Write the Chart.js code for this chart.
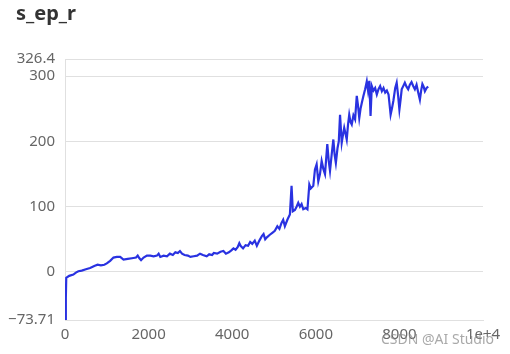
<!DOCTYPE html>
<html>
<head>
<meta charset="utf-8">
<script src="https://cdn.jsdelivr.net/npm/chart.js@4"></script>
<style>
  html, body { margin: 0; padding: 0; background: #fff; }
  #wrap { position: relative; width: 510px; height: 354px; }
  #title { position: absolute; left: 16px; top: 0px; font: bold 20px "Noto Sans", sans-serif; color: #333; line-height: 26px; }
  #mark { position: absolute; left: 381px; top: 329px; font: 14px "Noto Sans", sans-serif; color: rgba(140,140,140,0.75); white-space: nowrap; }
  canvas { position: absolute; left: 0; top: 0; }
</style>
</head>
<body>
<div id="wrap">
  <canvas id="chart" width="510" height="354"></canvas>
  <div id="title">s_ep_r</div>
  <div id="mark">CSDN @AI Studio</div>
</div>
<script>
// s_ep_r — episode reward vs step
const steps = [
  0, 20, 30, 100, 200, 260, 320, 400, 500, 600, 700, 780, 860, 940, 1000, 1080, 1160, 1240, 1320, 1400,
  1500, 1600, 1700, 1740, 1780, 1820, 1880, 1960, 2040, 2120, 2200, 2240, 2280, 2360, 2440, 2510, 2580, 2640, 2700, 2750,
  2800, 2860, 2940, 3000, 3080, 3160, 3230, 3300, 3390, 3450, 3520, 3560, 3640, 3720, 3790, 3850, 3920, 3980, 4030, 4080,
  4130, 4170, 4200, 4260, 4320, 4380, 4430, 4480, 4540, 4590, 4650, 4710, 4750, 4790, 4830, 4900, 4960, 5020, 5080, 5130,
  5180, 5220, 5260, 5320, 5380, 5420, 5450, 5500, 5540, 5580, 5620, 5660, 5700, 5760, 5800, 5845, 5880, 5940, 5980, 6020,
  6060, 6100, 6140, 6180, 6220, 6275, 6310, 6340, 6380, 6420, 6450, 6480, 6520, 6550, 6580, 6620, 6650, 6680, 6710, 6740,
  6770, 6800, 6830, 6860, 6900, 6940, 6980, 7010, 7040, 7070, 7100, 7140, 7180, 7220, 7250, 7280, 7310, 7340, 7380, 7420,
  7460, 7500, 7540, 7580, 7620, 7660, 7700, 7740, 7790, 7820, 7855, 7900, 7935, 7970, 8000, 8030, 8055, 8100, 8130, 8170,
  8210, 8250, 8290, 8330, 8370, 8410, 8450, 8490, 8520, 8550, 8580, 8610, 8650, 8690
];
const rewards = [
  -73.71, -40, -9, -6, -4, -1, 1, 2, 4, 6, 9, 11, 10, 11, 13, 17, 22, 23, 23, 19,
  20, 21, 22, 25, 21, 18, 22, 25, 25, 24, 25, 28, 23, 25, 24, 28, 26, 30, 29, 32,
  28, 26, 25, 23, 24, 25, 28, 26, 24, 27, 26, 29, 28, 31, 32, 28, 30, 33, 36, 34,
  38, 44, 40, 36, 41, 40, 46, 43, 48, 40, 48, 55, 58, 50, 53, 57, 60, 63, 70, 66,
  75, 80, 70, 80, 88, 132, 93, 95, 100, 106, 100, 104, 96, 98, 96, 134, 128, 132, 157, 165,
  139, 150, 170, 158, 150, 196, 170, 155, 180, 203, 180, 167, 190, 200, 241, 198, 210, 221, 212, 203,
  225, 241, 230, 226, 240, 234, 270, 255, 236, 250, 259, 270, 280, 292, 278, 293, 239, 285, 278, 282,
  272, 280, 285, 277, 282, 275, 278, 272, 241, 250, 262, 282, 290, 270, 249, 265, 280, 286, 290, 284,
  280, 287, 291, 285, 280, 287, 275, 264, 278, 288, 284, 277, 282, 284
];
const yTickValues = [-73.71, 0, 100, 200, 300, 326.4];
const yTickLabels = ['\u221273.71', '0', '100', '200', '300', '326.4'];
const xTickValues = [0, 2000, 4000, 6000, 8000, 10000];
const xTickLabels = ['0', '2000', '4000', '6000', '8000', '1e+4'];

const FONT = { family: '"Noto Sans", sans-serif', size: 15 };
const GRID = '#e0e0e0';

new Chart(document.getElementById('chart'), {
  type: 'line',
  data: {
    datasets: [{
      data: steps.map((s, i) => ({ x: s, y: rewards[i] })),
      borderColor: '#2932e1',
      borderWidth: 2.2,
      pointRadius: 0,
      tension: 0,
      fill: false,
    }],
  },
  options: {
    animation: false, responsive: false,
    layout: { padding: { top: 59, right: 27, left: 0, bottom: 0 } },
    plugins: { legend: { display: false }, tooltip: { enabled: false } },
    scales: {
      x: {
        type: 'linear', min: 0, max: 10000,
        afterBuildTicks: s => { s.ticks = xTickValues.map(v => ({ value: v })); },
        afterFit: s => { s.height = 34; },
        ticks: {
          color: '#666', font: FONT, padding: 6, autoSkip: false, maxRotation: 0,
          callback: v => xTickLabels[xTickValues.indexOf(v)],
        },
        grid: { display: false, drawTicks: false },
        border: { display: true, color: GRID },
      },
      y: {
        type: 'linear', min: -73.71, max: 326.4,
        afterBuildTicks: s => { s.ticks = yTickValues.map(v => ({ value: v })); },
        afterFit: s => { s.width = 65; },
        ticks: {
          color: '#666', font: FONT, padding: 10, autoSkip: false,
          callback: v => yTickLabels[yTickValues.indexOf(v)],
        },
        grid: { color: GRID, drawTicks: false },
        border: { display: true, color: GRID },
      },
    },
  },
});
</script>
</body>
</html>
